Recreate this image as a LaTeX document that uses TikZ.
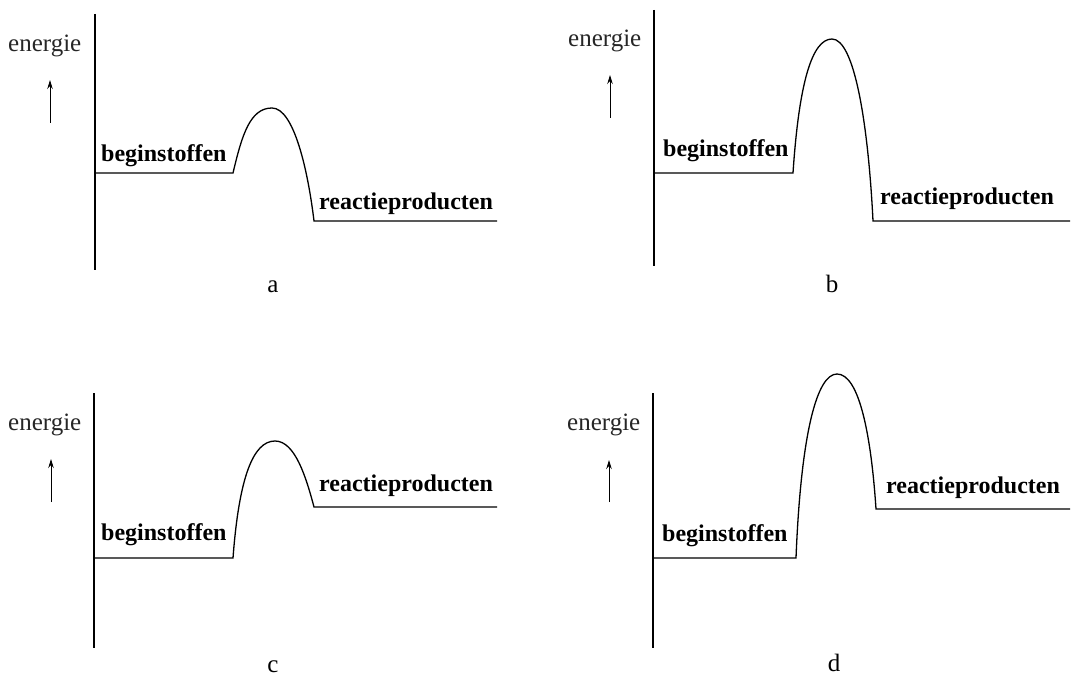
\documentclass[tikz,border=0pt]{standalone}
\usepackage{fontspec}
\setmainfont{Liberation Serif}
\usetikzlibrary{arrows.meta}
\begin{document}
\begin{tikzpicture}[x=1pt,y=-1pt,
  axisline/.style={line width=2.6pt},
  levelline/.style={line width=1.3pt},
  uparrow/.style={line width=0.9pt,-{Stealth[length=9pt,width=5.5pt]}},
  ylabel/.style={inner sep=0pt,anchor=base west,font=\fontsize{25}{30}\selectfont,text=black!85},
  statelabel/.style={inner sep=0pt,anchor=base west,font=\fontsize{24}{29}\selectfont\bfseries},
  panellabel/.style={inner sep=0pt,anchor=base,font=\fontsize{25}{30}\selectfont}]
\useasboundingbox (0,0) rectangle (1074,679);

% ---------- panel a ----------
\coordinate (aTop) at (95,14);
\coordinate (aBot) at (95,270);
\coordinate (aS0) at (95,173);
\coordinate (aS1) at (233,173);
\coordinate (aP) at (272,108);
\coordinate (aE0) at (314,221);
\coordinate (aE1) at (497,221);
\coordinate (aArB) at (50,123);
\coordinate (aArT) at (50,80);
\draw[axisline] (aTop) -- (aBot);
\draw[levelline] (aS0) -- (aS1) .. controls +(9,-38) and +(-22,0) .. (aP)
  .. controls +(22,0) and +(-6,-50) .. (aE0) -- (aE1);
\draw[uparrow] (aArB) -- (aArT);
\node[ylabel] (aEn) at (8,52) {energie};
\node[statelabel] (aBeg) at (101,162) {beginstoffen};
\node[statelabel] (aRea) at (319,210) {reactieproducten};
\node[panellabel] (aLab) at (273,293) {a};

% ---------- panel b ----------
\coordinate (bTop) at (654,10);
\coordinate (bBot) at (654,266);
\coordinate (bS0) at (654,173);
\coordinate (bS1) at (793,173);
\coordinate (bP) at (832,39);
\coordinate (bE0) at (873,221);
\coordinate (bE1) at (1070,221);
\coordinate (bArB) at (610,118);
\coordinate (bArT) at (610,75);
\draw[axisline] (bTop) -- (bBot);
\draw[levelline] (bS0) -- (bS1) .. controls +(6,-90) and +(-20,0) .. (bP)
  .. controls +(22,0) and +(-5,-100) .. (bE0) -- (bE1);
\draw[uparrow] (bArB) -- (bArT);
\node[ylabel] (bEn) at (568,47) {energie};
\node[statelabel] (bBeg) at (663,157) {beginstoffen};
\node[statelabel] (bRea) at (880,205) {reactieproducten};
\node[panellabel] (bLab) at (832,293) {b};

% ---------- panel c ----------
\coordinate (cTop) at (94,393);
\coordinate (cBot) at (94,648);
\coordinate (cS0) at (94,558);
\coordinate (cS1) at (233,558);
\coordinate (cP) at (275,441);
\coordinate (cE0) at (314,507);
\coordinate (cE1) at (497,507);
\coordinate (cArB) at (51,502);
\coordinate (cArT) at (51,459);
\draw[axisline] (cTop) -- (cBot);
\draw[levelline] (cS0) -- (cS1) .. controls +(6,-80) and +(-22,0) .. (cP)
  .. controls +(20,0) and +(-8,-30) .. (cE0) -- (cE1);
\draw[uparrow] (cArB) -- (cArT);
\node[ylabel] (cEn) at (8,430) {energie};
\node[statelabel] (cBeg) at (101,540) {beginstoffen};
\node[statelabel] (cRea) at (319,491) {reactieproducten};
\node[panellabel] (cLab) at (273,672) {c};

% ---------- panel d ----------
\coordinate (dTop) at (653,393);
\coordinate (dBot) at (653,648);
\coordinate (dS0) at (653,558);
\coordinate (dS1) at (796,558);
\coordinate (dP) at (837,374);
\coordinate (dE0) at (876,509);
\coordinate (dE1) at (1070,509);
\coordinate (dArB) at (609,502);
\coordinate (dArT) at (609,460);
\draw[axisline] (dTop) -- (dBot);
\draw[levelline] (dS0) -- (dS1) .. controls +(5,-125) and +(-20,0) .. (dP)
  .. controls +(22,0) and +(-5,-75) .. (dE0) -- (dE1);
\draw[uparrow] (dArB) -- (dArT);
\node[ylabel] (dEn) at (567,430) {energie};
\node[statelabel] (dBeg) at (662,541) {beginstoffen};
\node[statelabel] (dRea) at (886,493) {reactieproducten};
\node[panellabel] (dLab) at (834,671) {d};
\end{tikzpicture}
\end{document}
